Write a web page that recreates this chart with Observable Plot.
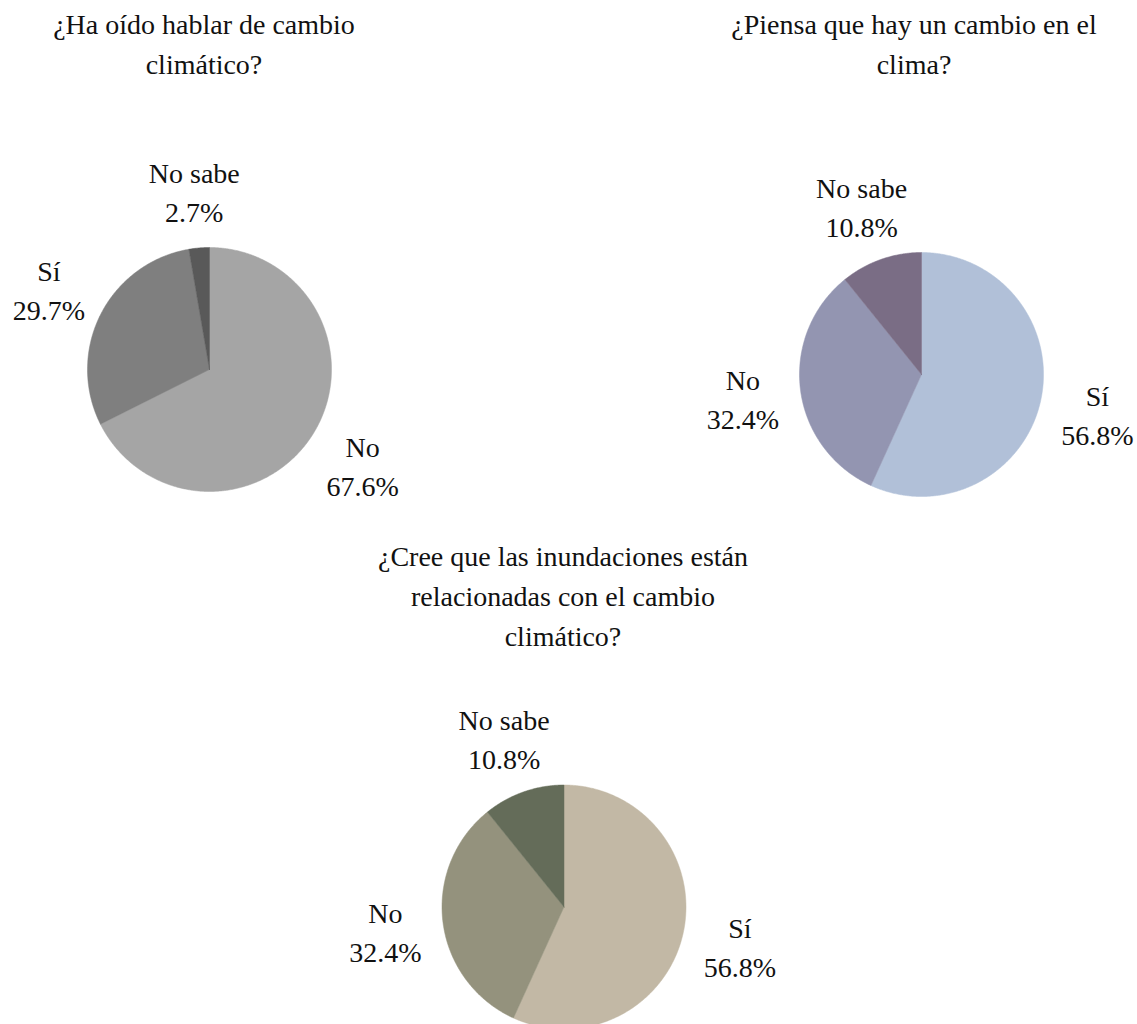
<!DOCTYPE html>
<html>
<head>
<meta charset="utf-8">
<script src="https://cdn.jsdelivr.net/npm/d3@7"></script>
<script src="https://cdn.jsdelivr.net/npm/@observablehq/plot@0.6"></script>
<style>
  html, body { margin: 0; padding: 0; background: #fff; }
  #page { position: relative; width: 1137px; height: 1024px; overflow: hidden; font-family: "Liberation Serif", "Times New Roman", serif; }
  .title { position: absolute; text-align: center; font-size: 28px; line-height: 40px; color: #111; transform: translateX(-50%); white-space: nowrap; }
  #chart { position: absolute; left: 0; top: 0; }
</style>
</head>
<body>
<div id="page">
  <div id="chart"></div>
</div>
<script>
// ---- Data ----
const titles = [
  ["¿Ha oído hablar de cambio", "climático?"],
  ["¿Piensa que hay un cambio en el", "clima?"],
  ["¿Cree que las inundaciones están", "relacionadas con el cambio", "climático?"]
];
const categories1 = ["No", "Sí", "No sabe"];
const values1 = [67.6, 29.7, 2.7];
const colors1 = ["#a5a5a5", "#7f7f7f", "#595959"];

const categories2 = ["Sí", "No", "No sabe"];
const values2 = [56.8, 32.4, 10.8];
const colors2 = ["#b1c0d8", "#9395b1", "#7a6d85"];

const categories3 = ["Sí", "No", "No sabe"];
const values3 = [56.8, 32.4, 10.8];
const colors3 = ["#c2b8a5", "#94927d", "#646c59"];

// ---- Layout ----
const W = 1137, H = 1024;
const R = 122;
const layout = [
  {cx: 209, cy: 369, tx: 204, ty: 5},
  {cx: 921, cy: 374, tx: 914, ty: 5},
  {cx: 563.5, cy: 906.5, tx: 563, ty: 537}
];
const pies = [
  {cats: categories1, vals: values1, cols: colors1},
  {cats: categories2, vals: values2, cols: colors2},
  {cats: categories3, vals: values3, cols: colors3}
];

const slices = [];
const labels = [];
const colorDomain = [], colorRange = [];
pies.forEach((p, i) => {
  const {cx, cy} = layout[i];
  const arcs = d3.pie().sort(null).value(d => d)(p.vals);
  arcs.forEach((a, j) => {
    const key = `${i}-${p.cats[j]}`;
    colorDomain.push(key); colorRange.push(p.cols[j]);
    const pts = [{key, x: cx, y: cy}];
    const n = Math.max(2, Math.ceil((a.endAngle - a.startAngle) / (Math.PI / 360)));
    for (let k = 0; k <= n; k++) {
      const t = a.startAngle + (a.endAngle - a.startAngle) * k / n;
      pts.push({key, x: cx + R * Math.sin(t), y: cy - R * Math.cos(t)});
    }
    pts.push({key, x: cx, y: cy});
    slices.push(...pts);
    const m = (a.startAngle + a.endAngle) / 2;
    labels.push({
      x: cx + 1.475 * R * Math.sin(m),
      y: cy - 1.475 * R * Math.cos(m),
      text: `${p.cats[j]}\n${p.vals[j].toFixed(1)}%`
    });
  });
});

const chart = Plot.plot({
  width: W,
  height: H,
  margin: 0,
  x: {domain: [0, W], axis: null},
  y: {domain: [0, H], reverse: true, axis: null},
  color: {type: "ordinal", domain: colorDomain, range: colorRange},
  style: {background: "transparent", overflow: "visible"},
  marks: [
    Plot.line(slices, {x: "x", y: "y", z: "key", fill: "key", stroke: "key", strokeWidth: 0.5, curve: "linear"}),
    Plot.text(labels, {
      x: "x", y: "y", text: "text",
      fontSize: 28, lineHeight: 1.4, fill: "#111",
      fontFamily: "Liberation Serif, Times New Roman, serif",
      textAnchor: "middle", lineAnchor: "middle"
    })
  ]
});
document.getElementById("chart").appendChild(chart);

const page = document.getElementById("page");
titles.forEach((lines, i) => {
  const d = document.createElement("div");
  d.className = "title";
  d.style.left = layout[i].tx + "px";
  d.style.top = layout[i].ty + "px";
  d.innerHTML = lines.join("<br>");
  page.appendChild(d);
});
</script>
</body>
</html>
